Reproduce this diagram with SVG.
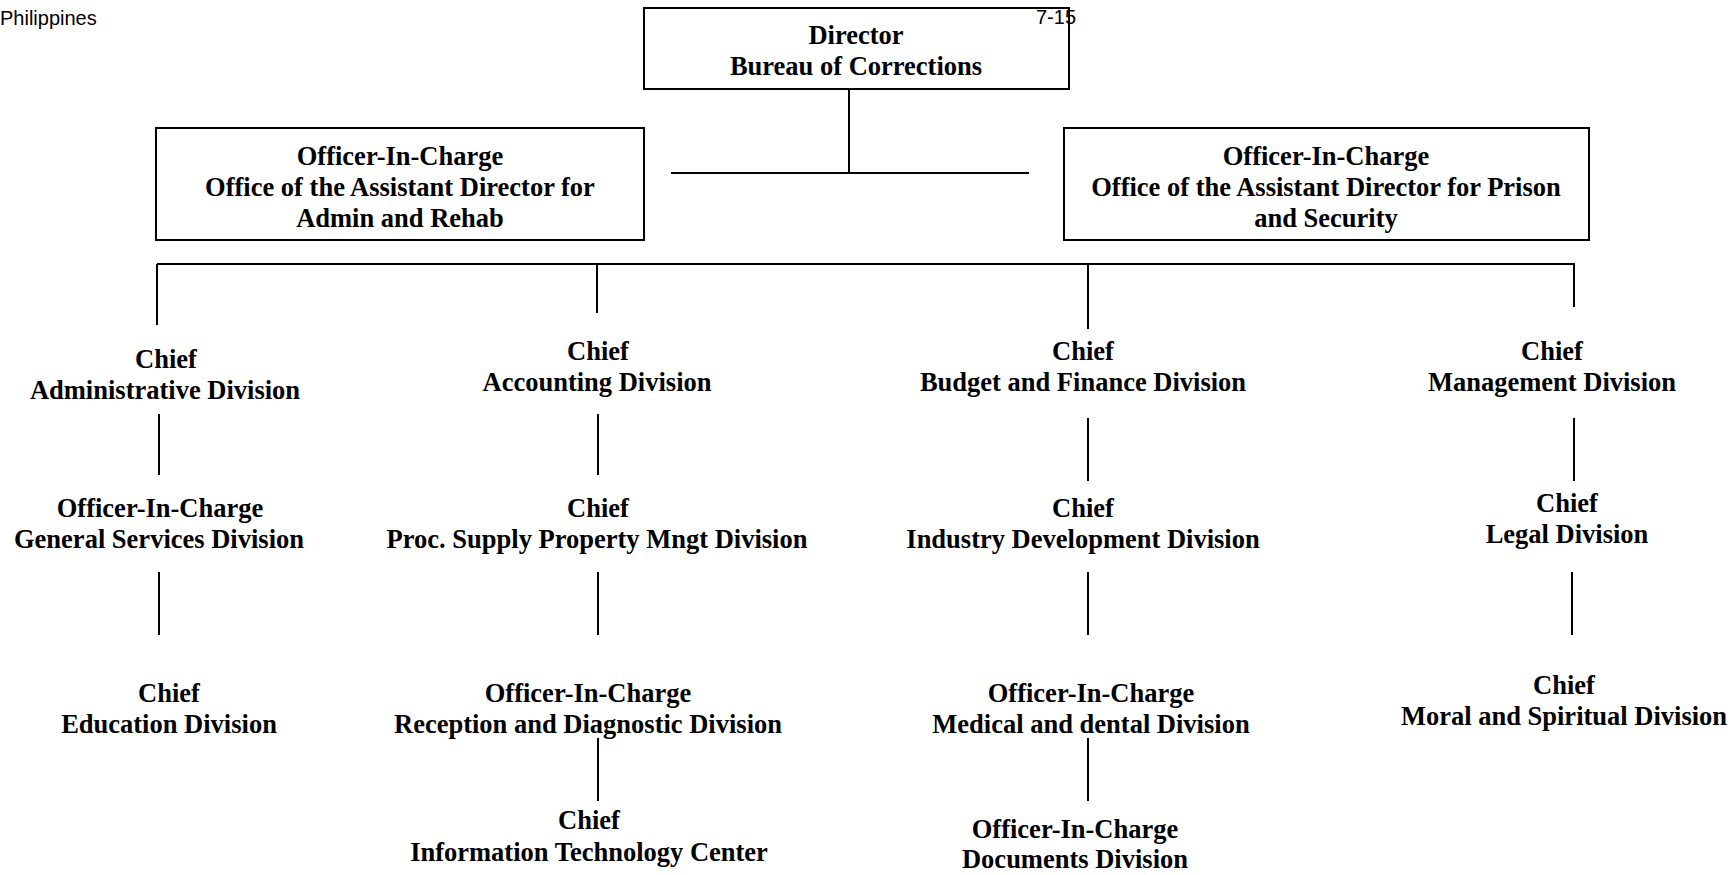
<svg xmlns="http://www.w3.org/2000/svg" width="1733" height="875" viewBox="0 0 1733 875">
<style>
.box{fill:#fff;stroke:#000;stroke-width:2}
.ln{stroke:#000;stroke-width:2;fill:none}
.t{font-family:"Liberation Serif","Times New Roman",serif;font-weight:bold;font-size:26.5px;text-anchor:middle;fill:#000}
.s{font-family:"Liberation Sans",Arial,sans-serif;font-size:20px;fill:#000}
</style>
<rect width="1733" height="875" fill="#fff"/>
<g id="connectors">
<line class="ln" x1="849" y1="89" x2="849" y2="173"/>
<line class="ln" x1="671" y1="173" x2="1029" y2="173"/>
<line class="ln" x1="157" y1="264" x2="1575" y2="264"/>
<line class="ln" x1="157" y1="264" x2="157" y2="325"/>
<line class="ln" x1="597" y1="264" x2="597" y2="313"/>
<line class="ln" x1="1088" y1="264" x2="1088" y2="329"/>
<line class="ln" x1="1574" y1="264" x2="1574" y2="307"/>
<line class="ln" x1="159" y1="414" x2="159" y2="475"/>
<line class="ln" x1="159" y1="572" x2="159" y2="635"/>
<line class="ln" x1="598" y1="414" x2="598" y2="475"/>
<line class="ln" x1="598" y1="572" x2="598" y2="635"/>
<line class="ln" x1="598" y1="738" x2="598" y2="801"/>
<line class="ln" x1="1088" y1="418" x2="1088" y2="481"/>
<line class="ln" x1="1088" y1="572" x2="1088" y2="635"/>
<line class="ln" x1="1088" y1="738" x2="1088" y2="801"/>
<line class="ln" x1="1574" y1="418" x2="1574" y2="481"/>
<line class="ln" x1="1572" y1="572" x2="1572" y2="635"/>
</g>
<g id="page-label">
<text class="s" x="0" y="25">Philippines</text>
</g>
<g id="director">
<rect class="box" x="644" y="8" width="425" height="81"/>
<text class="t" x="856" y="44">Director</text>
<text class="t" x="856" y="75">Bureau of Corrections</text>
</g>
<g id="page-number">
<text class="s" x="1036" y="24">7-15</text>
</g>
<g id="asst-admin">
<rect class="box" x="156" y="128" width="488" height="112"/>
<text class="t" x="400" y="165">Officer-In-Charge</text>
<text class="t" x="400" y="196">Office of the Assistant Director for</text>
<text class="t" x="400" y="227">Admin and Rehab</text>
</g>
<g id="asst-prison">
<rect class="box" x="1064" y="128" width="525" height="112"/>
<text class="t" x="1326" y="165">Officer-In-Charge</text>
<text class="t" x="1326" y="196">Office of the Assistant Director for Prison</text>
<text class="t" x="1326" y="227">and Security</text>
</g>
<g id="admin-div">
<text class="t" x="166" y="368">Chief</text>
<text class="t" x="165" y="399">Administrative Division</text>
</g>
<g id="general-services">
<text class="t" x="160" y="517">Officer-In-Charge</text>
<text class="t" x="159" y="548">General Services Division</text>
</g>
<g id="education">
<text class="t" x="169" y="702">Chief</text>
<text class="t" x="169" y="733">Education Division</text>
</g>
<g id="accounting">
<text class="t" x="598" y="360">Chief</text>
<text class="t" x="597" y="391">Accounting Division</text>
</g>
<g id="procurement">
<text class="t" x="598" y="517">Chief</text>
<text class="t" x="597" y="548">Proc. Supply Property Mngt Division</text>
</g>
<g id="reception">
<text class="t" x="588" y="702">Officer-In-Charge</text>
<text class="t" x="588" y="733">Reception and Diagnostic Division</text>
</g>
<g id="it-center">
<text class="t" x="589" y="829">Chief</text>
<text class="t" x="589" y="861">Information Technology Center</text>
</g>
<g id="budget">
<text class="t" x="1083" y="360">Chief</text>
<text class="t" x="1083" y="391">Budget and Finance Division</text>
</g>
<g id="industry">
<text class="t" x="1083" y="517">Chief</text>
<text class="t" x="1083" y="548">Industry Development Division</text>
</g>
<g id="medical">
<text class="t" x="1091" y="702">Officer-In-Charge</text>
<text class="t" x="1091" y="733">Medical and dental Division</text>
</g>
<g id="documents">
<text class="t" x="1075" y="838">Officer-In-Charge</text>
<text class="t" x="1075" y="868">Documents Division</text>
</g>
<g id="management">
<text class="t" x="1552" y="360">Chief</text>
<text class="t" x="1552" y="391">Management Division</text>
</g>
<g id="legal">
<text class="t" x="1567" y="512">Chief</text>
<text class="t" x="1567" y="543">Legal Division</text>
</g>
<g id="moral">
<text class="t" x="1564" y="694">Chief</text>
<text class="t" x="1564" y="725">Moral and Spiritual Division</text>
</g>
</svg>
